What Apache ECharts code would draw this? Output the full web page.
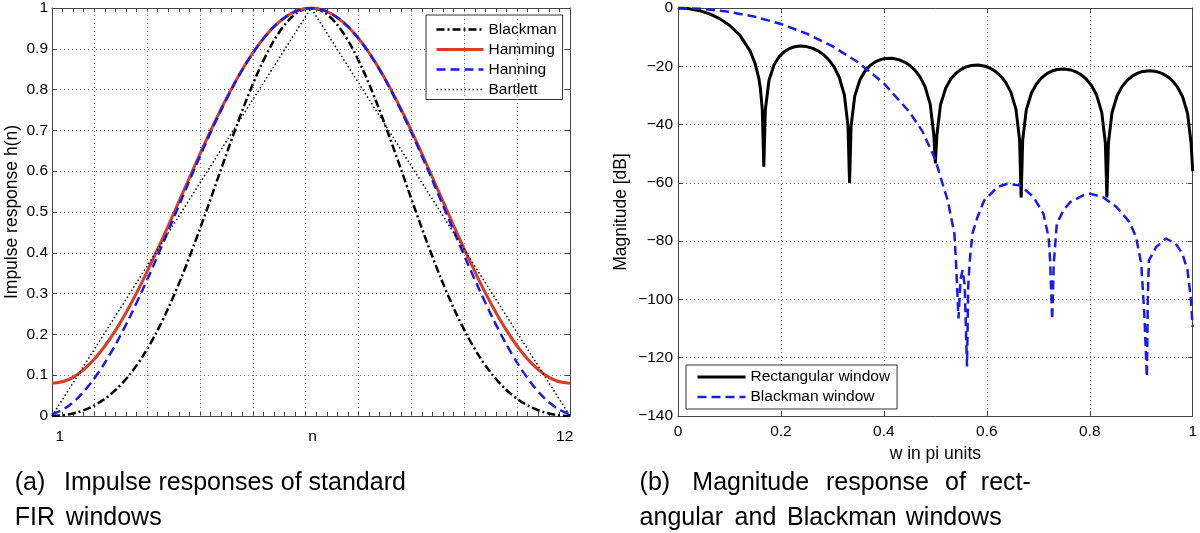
<!DOCTYPE html>
<html>
<head>
<meta charset="utf-8">
<script src="https://cdn.jsdelivr.net/npm/echarts@6/dist/echarts.min.js"></script>
<style>
html,body{margin:0;padding:0;background:#fff;}
#chart{width:1200px;height:533px;}
</style>
</head>
<body>
<div id="chart"></div>
<script>
// ---------- (a) impulse responses ----------
const leftX = [0.2, 0.445, 0.69, 0.935, 1.18, 1.425, 1.67, 1.915, 2.16, 2.405, 2.65, 2.895, 3.14, 3.385, 3.63, 3.875, 4.12, 4.365, 4.61, 4.855, 5.1, 5.345, 5.59, 5.835, 6.08, 6.325, 6.57, 6.815, 7.06, 7.305, 7.55, 7.795, 8.04, 8.285, 8.53, 8.775, 9.02, 9.265, 9.51, 9.755, 10.0];
const blackmanY = [0, 0.0022, 0.0092, 0.0215, 0.0402, 0.0665, 0.1014, 0.1460, 0.2008, 0.2657, 0.34, 0.4221, 0.5098, 0.6000, 0.6892, 0.7736, 0.8492, 0.9125, 0.9603, 0.9899, 1.0, 0.9899, 0.9603, 0.9125, 0.8492, 0.7736, 0.6892, 0.6000, 0.5098, 0.4221, 0.34, 0.2657, 0.2008, 0.1460, 0.1014, 0.0665, 0.0402, 0.0215, 0.0092, 0.0022, 0];
const hammingY = [0.08, 0.0857, 0.1025, 0.1301, 0.1679, 0.2147, 0.2696, 0.3312, 0.3979, 0.4680, 0.54, 0.6120, 0.6821, 0.7488, 0.8104, 0.8653, 0.9122, 0.9499, 0.9775, 0.9943, 1.0, 0.9943, 0.9775, 0.9499, 0.9122, 0.8653, 0.8104, 0.7488, 0.6821, 0.6120, 0.54, 0.4680, 0.3979, 0.3312, 0.2696, 0.2147, 0.1679, 0.1301, 0.1025, 0.0857, 0.08];
const hanningY = [0.0038, 0.0187, 0.0445, 0.0807, 0.1264, 0.1806, 0.2421, 0.3094, 0.3810, 0.4554, 0.5308, 0.6055, 0.6777, 0.7460, 0.8086, 0.8643, 0.9116, 0.9497, 0.9774, 0.9943, 1.0, 0.9943, 0.9774, 0.9497, 0.9116, 0.8643, 0.8086, 0.7460, 0.6777, 0.6055, 0.5308, 0.4554, 0.3810, 0.3094, 0.2421, 0.1806, 0.1264, 0.0807, 0.0445, 0.0187, 0.0038];
const bartlettX = [0.2, 5.1, 10.0];
const bartlettY = [0, 1, 0];
const leftNames = ['Blackman', 'Hamming', 'Hanning', 'Bartlett'];
const leftGridX = [1, 2, 3, 4, 5, 6, 7, 8, 9];
const leftTickPos = [0.35, 5.13, 9.9];
const leftTickLabels = ['1', 'n', '12'];

// ---------- (b) magnitude responses ----------
const rectW = [0, 0.02, 0.04, 0.06, 0.08, 0.10, 0.12, 0.14, 0.15, 0.1567, 0.16, 0.1637, 0.1667,
  0.1697, 0.1767, 0.1867, 0.1967, 0.2067, 0.2167, 0.2267, 0.2367, 0.25, 0.2633, 0.2733, 0.2833, 0.2933, 0.3033, 0.3133, 0.3233, 0.3303, 0.3333,
  0.3363, 0.3433, 0.3533, 0.3633, 0.3733, 0.3833, 0.3933, 0.4033, 0.4167, 0.43, 0.44, 0.45, 0.46, 0.47, 0.48, 0.49, 0.497, 0.5,
  0.503, 0.51, 0.52, 0.53, 0.54, 0.55, 0.56, 0.57, 0.5833, 0.5967, 0.6067, 0.6167, 0.6267, 0.6367, 0.6467, 0.6567, 0.6637, 0.6667,
  0.6697, 0.6767, 0.6867, 0.6967, 0.7067, 0.7167, 0.7267, 0.7367, 0.75, 0.7633, 0.7733, 0.7833, 0.7933, 0.8033, 0.8133, 0.8233, 0.8303, 0.8333,
  0.8363, 0.8433, 0.8533, 0.8633, 0.8733, 0.8833, 0.8933, 0.9033, 0.9167, 0.93, 0.94, 0.95, 0.96, 0.97, 0.98, 0.99, 0.997, 1.0];
const rectDb = [0, -0.21, -0.83, -1.93, -3.56, -5.91, -9.30, -14.70, -19.15, -23.87, -27.54, -34.65, -54.5,
  -34.96, -24.89, -19.48, -16.66, -14.95, -13.90, -13.30, -13.07, -13.24, -13.95, -14.84, -16.10, -17.83, -20.23, -23.75, -29.87, -40.45, -60.0,
  -40.59, -30.34, -24.70, -21.66, -19.74, -18.49, -17.72, -17.32, -17.27, -17.79, -18.54, -19.68, -21.28, -23.56, -26.97, -32.99, -43.49, -53.3,
  -43.57, -33.26, -27.52, -24.38, -22.38, -21.05, -20.19, -19.71, -19.57, -19.99, -20.68, -21.75, -23.29, -25.51, -28.85, -34.80, -45.27, -65.0,
  -45.32, -34.96, -29.16, -25.98, -23.92, -22.53, -21.63, -21.10, -20.90, -21.25, -21.89, -22.91, -24.41, -26.58, -29.88, -35.80, -46.23, -65.0,
  -46.26, -35.87, -30.03, -26.80, -24.70, -23.28, -22.33, -21.76, -21.51, -21.81, -22.42, -23.40, -24.86, -26.99, -30.26, -36.13, -46.54, -56.0];
const bmW = [0, 0.05, 0.1, 0.15, 0.2, 0.25, 0.3, 0.35, 0.4, 0.45, 0.475, 0.5, 0.514, 0.524, 0.5305, 0.537, 0.540, 0.545, 0.549, 0.553, 0.557, 0.5615, 0.564, 0.567, 0.572, 0.582, 0.595, 0.621, 0.640, 0.665, 0.691, 0.710, 0.720, 0.723, 0.727, 0.730, 0.736, 0.749, 0.762, 0.787, 0.800, 0.826, 0.852, 0.877, 0.890, 0.900, 0.906, 0.911, 0.913, 0.915, 0.929, 0.948, 0.967, 0.980, 0.990, 0.996, 1.0];
const bmDb = [0, -0.33, -1.33, -3.03, -5.49, -8.80, -13.10, -18.65, -25.87, -35.73, -42.35, -52.0, -60.3, -66.0, -71.7, -77.4, -86.6, -106.5, -93.0, -90.0, -95.0, -123.0, -95.0, -86.6, -77.4, -71.7, -66.0, -61.4, -60.3, -60.9, -64.9, -70.6, -78.6, -86.6, -107.0, -88.0, -74.0, -69.4, -66.6, -64.3, -63.7, -64.9, -68.3, -73.4, -78.6, -87.7, -105.0, -126.6, -98.0, -86.6, -82.0, -79.1, -80.9, -84.3, -90.0, -99.0, -109.4];
const rightNames = ['Rectangular window', 'Blackman window'];

const FONT = '"Liberation Sans", Arial, Helvetica, sans-serif';
const zip = (xs, ys) => xs.map((x, i) => [x, ys[i]]);
const axisLineStyle = { color: '#444', width: 1 };
const gridLineStyle = { color: '#777', width: 1, type: [1, 3] };
const tickLabel = { color: '#000', fontSize: 15.5, fontFamily: FONT };
const nameStyle = { color: '#000', fontSize: 17.5, fontFamily: FONT };

function boxAxis(extra) {
  return Object.assign({
    type: 'value',
    axisLine: { show: true, onZero: false, lineStyle: axisLineStyle },
    axisTick: { show: true, inside: true, length: 5, lineStyle: axisLineStyle },
    axisLabel: { show: false },
    splitLine: { show: false }
  }, extra);
}

const RED = '#dc3c26', BLUE = '#1a1aee';
const styles = {
  'Blackman': { color: '#000', width: 2.5, type: [8, 3, 2, 3] },
  'Hamming': { color: RED, width: 3, type: 'solid' },
  'Hanning': { color: BLUE, width: 2.5, type: [9, 5] },
  'Bartlett': { color: '#000', width: 1.5, type: [1.5, 2.5] },
  'Rectangular window': { color: '#000', width: 3, type: 'solid' },
  'Blackman window': { color: BLUE, width: 2.5, type: [9, 5] }
};

const legendBase = {
  orient: 'vertical', itemWidth: 47, itemHeight: 14, itemGap: 4,
  backgroundColor: '#fff', borderColor: '#333', borderWidth: 1, borderRadius: 0,
  selectedMode: false,
  itemStyle: { opacity: 0, borderWidth: 0 },
  textStyle: { color: '#000', fontSize: 15.5, fontFamily: FONT, lineHeight: 16 }
};
const legendData = names => names.map(n => ({ name: n, lineStyle: Object.assign({}, styles[n]) }));

function lineSeries(name, xIdx, yIdx, xs, ys, smooth) {
  return {
    name: name, type: 'line', xAxisIndex: xIdx, yAxisIndex: yIdx, data: zip(xs, ys),
    symbol: 'none', smooth: smooth, z: 3,
    lineStyle: Object.assign({}, styles[name]), itemStyle: { color: styles[name].color }
  };
}

const option = {
  animation: false,
  backgroundColor: '#fff',
  textStyle: { fontFamily: FONT },
  grid: [
    { left: 52, top: 8, width: 518, height: 408 },
    { left: 678, top: 8, width: 519, height: 408 }
  ],
  xAxis: [
    boxAxis({ gridIndex: 0, position: 'bottom', min: 0.2, max: 10, interval: 0.2, axisTick: { show: true, inside: true, length: 4, lineStyle: axisLineStyle } }),
    boxAxis({ gridIndex: 0, position: 'top', min: 0.2, max: 10, interval: 0.2, axisTick: { show: true, inside: true, length: 4, lineStyle: axisLineStyle } }),
    {
      type: 'value', gridIndex: 0, position: 'bottom', min: 0.2, max: 10,
      axisLine: { show: false, onZero: false }, axisTick: { show: false }, splitLine: { show: false },
      axisLabel: Object.assign({}, tickLabel, {
        show: true, margin: 13, customValues: leftTickPos,
        formatter: function (v) {
          let best = 0, d = Infinity;
          leftTickPos.forEach((p, i) => { if (Math.abs(p - v) < d) { d = Math.abs(p - v); best = i; } });
          return leftTickLabels[best];
        }
      })
    },
    boxAxis({
      gridIndex: 1, position: 'bottom', min: 0, max: 1, interval: 0.2,
      name: 'w in pi units', nameLocation: 'middle', nameGap: 27, nameTextStyle: nameStyle,
      axisLabel: Object.assign({}, tickLabel, { show: true, margin: 8 }),
      splitLine: { show: true, lineStyle: gridLineStyle }
    }),
    boxAxis({ gridIndex: 1, position: 'top', min: 0, max: 1, interval: 0.2 })
  ],
  yAxis: [
    boxAxis({
      gridIndex: 0, position: 'left', min: 0, max: 1, interval: 0.1,
      name: 'Impulse response h(n)', nameLocation: 'middle', nameGap: 31, nameTextStyle: nameStyle,
      axisLabel: Object.assign({}, tickLabel, { show: true, margin: 4 }),
      splitLine: { show: true, lineStyle: gridLineStyle }
    }),
    boxAxis({ gridIndex: 0, position: 'right', min: 0, max: 1, interval: 0.1 }),
    boxAxis({
      gridIndex: 1, position: 'left', min: -140, max: 0, interval: 20,
      name: 'Magnitude [dB]', nameLocation: 'middle', nameGap: 48, nameTextStyle: nameStyle,
      axisLabel: Object.assign({}, tickLabel, { show: true, margin: 5, formatter: v => String(v).replace('-', '\u2212') }),
      splitLine: { show: true, lineStyle: gridLineStyle }
    }),
    boxAxis({ gridIndex: 1, position: 'right', min: -140, max: 0, interval: 20 })
  ],
  legend: [
    Object.assign({}, legendBase, { data: legendData(leftNames), left: 426, top: 15, padding: [6.5, 6, 2, 9] }),
    Object.assign({}, legendBase, { data: legendData(rightNames), left: 686, top: 365, itemWidth: 48, padding: [4, 7, 4, 10] })
  ],
  series: [
    {
      name: '_gridlines', type: 'line', xAxisIndex: 0, yAxisIndex: 0, data: [], silent: true, z: 1,
      markLine: {
        silent: true, symbol: ['none', 'none'], animation: false,
        label: { show: false },
        lineStyle: gridLineStyle,
        emphasis: { disabled: true },
        data: leftGridX.map(v => ({ xAxis: v }))
      }
    },
    lineSeries(leftNames[0], 0, 0, leftX, blackmanY, 0.3),
    lineSeries(leftNames[1], 0, 0, leftX, hammingY, 0.3),
    lineSeries(leftNames[2], 0, 0, leftX, hanningY, 0.3),
    lineSeries(leftNames[3], 0, 0, bartlettX, bartlettY, false),
    lineSeries(rightNames[0], 3, 2, rectW, rectDb, false),
    lineSeries(rightNames[1], 3, 2, bmW, bmDb, false)
  ],
  graphic: (function () {
    const words = [
      ['(a)', 14.7, 483.5], ['Impulse responses of standard', 64, 483.5],
      ['FIR', 14.7, 518.5], ['windows', 65.8, 518.5],
      ['(b)', 639.6, 483.5], ['Magnitude', 692.3, 483.5], ['response', 826, 483.5], ['of', 945, 483.5], ['rect-', 980.8, 483.5],
      ['angular', 639.6, 518.5], ['and', 734.6, 518.5], ['Blackman', 787, 518.5], ['windows', 905.8, 518.5]
    ];
    return words.map(w => ({
      type: 'text', x: w[1], y: w[2], silent: true,
      style: { text: w[0], fill: '#000', font: '25px ' + FONT, align: 'left', verticalAlign: 'middle' }
    }));
  })()
};

const chart = echarts.init(document.getElementById('chart'), null, { renderer: 'canvas' });
chart.setOption(option);
</script>
</body>
</html>
